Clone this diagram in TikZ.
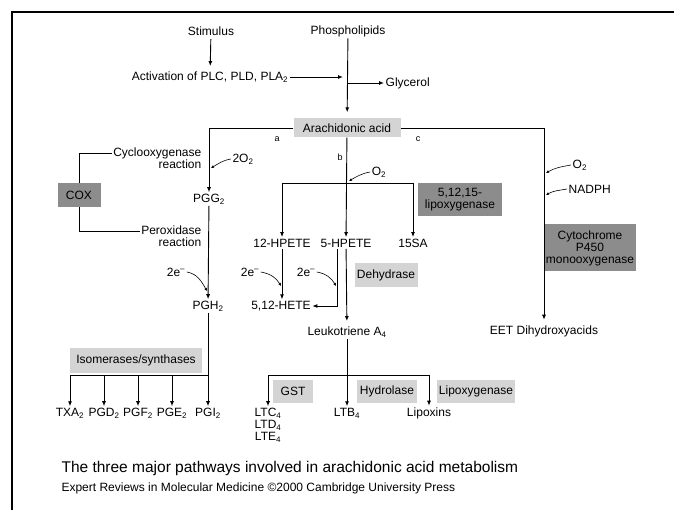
\documentclass[tikz,border=0pt]{standalone}
\usepackage{fontspec}
\setmainfont{Liberation Sans}
\usetikzlibrary{arrows.meta}
\definecolor{boxdark}{gray}{0.55}
\definecolor{boxlight}{gray}{0.83}
\tikzset{
  lbl/.style={font=\fontsize{12}{12}\selectfont, inner sep=1.5pt},
  tag/.style={font=\fontsize{9}{10}\selectfont, inner sep=1pt},
  lightbox/.style={lbl, fill=boxlight, align=center},
  darkbox/.style={lbl, fill=boxdark, align=center},
  arr/.style={-{Latex[length=5pt,width=4pt]}, line width=0.9pt},
  sarr/.style={-{Latex[length=3pt,width=3pt]}, line width=0.6pt},
  line/.style={line width=0.9pt}
}
\begin{document}
\begin{tikzpicture}[x=1pt,y=-1pt]
  \useasboundingbox (0,0) rectangle (674,510);
  \draw[line width=2.5pt] (12,510) -- (12,12) -- (674,12);

  \node[lbl] (stim) at (211,31) {Stimulus};
  \node[lbl] (phos) at (348,31) {Phospholipids};
  \node[lbl] (act) at (210,77) {Activation of PLC, PLD, PLA\textsubscript{2}};
  \node[lbl,anchor=west] (glyc) at (384,83) {Glycerol};
  \node[lightbox,minimum width=107pt,minimum height=19pt] (aa) at (347,128) {Arachidonic acid};

  \coordinate (pj1) at (346,77);
  \coordinate (pj2) at (347,83);
  \draw[arr,shorten <=2pt,shorten >=4pt] (stim) -- (act);
  \draw[arr,shorten >=6pt] (phos) -- (aa);
  \draw[arr,shorten >=3pt] (act) -- (pj1);
  \draw[arr] (pj2) -- (glyc);

  \node[tag] (pa) at (277,139) {a};
  \node[tag] (pb) at (340,157) {b};
  \node[tag] (pc) at (418,139) {c};

  \node[lbl,align=right,anchor=east] (cyclo) at (203,158) {Cyclooxygenase\\reaction};
  \node[lbl,align=right,anchor=east] (perox) at (203,236) {Peroxidase\\reaction};
  \node[darkbox,minimum width=43pt,minimum height=24pt] (cox) at (79,195) {COX};
  \node[lbl] (twoo) at (243,159) {2O\textsubscript{2}};
  \node[lbl] (pgg) at (209,199) {PGG\textsubscript{2}};
  \node[lbl] (eone) at (176,272) {2e\textsuperscript{--}};
  \node[lbl] (pgh) at (208,306) {PGH\textsubscript{2}};
  \node[lightbox,minimum width=132pt,minimum height=25pt] (iso) at (136,360) {Isomerases/synthases};

  \draw[line] ([yshift=5pt]cyclo.west) -| (cox.north);
  \draw[line] ([yshift=5pt]perox.west) -| (cox.south);
  \draw[arr] (aa.west) -| (pgg);
  \coordinate (ptwoo) at (211,168);
  \draw[sarr] (twoo.west) to[out=190,in=30] (ptwoo);
  \draw[arr] (pgg) -- (pgh);
  \coordinate (peone) at (207,291);
  \draw[sarr] (eone.east) to[out=-10,in=120] (peone);

  \node[lbl] (txa) at (70,413) {TXA\textsubscript{2}};
  \node[lbl] (pgd) at (104,413) {PGD\textsubscript{2}};
  \node[lbl] (pgf) at (138,413) {PGF\textsubscript{2}};
  \node[lbl] (pge) at (172,413) {PGE\textsubscript{2}};
  \node[lbl] (pgi) at (208,413) {PGI\textsubscript{2}};
  \coordinate (pbar) at (208,375);
  \draw[line] (pgh) -- (pbar);
  \foreach \n in {txa,pgd,pgf,pge,pgi}
    \draw[arr] (pbar) -| (\n);

  \node[lbl] (obox) at (379,172) {O\textsubscript{2}};
  \node[darkbox,minimum width=84pt,minimum height=33pt] (lox) at (460,200) {5,12,15-\\lipoxygenase};
  \node[lbl] (hp12) at (282,243) {12-HPETE};
  \node[lbl] (hp5) at (346,243) {5-HPETE};
  \node[lbl] (sa15) at (413,243) {15SA};
  \node[lbl] (etwo) at (250,272) {2e\textsuperscript{--}};
  \node[lbl] (ethree) at (306,272) {2e\textsuperscript{--}};
  \node[lightbox,minimum width=63pt,minimum height=24pt] (dehyd) at (386,275) {Dehydrase};
  \node[lbl] (hete) at (281,306) {5,12-HETE};
  \node[lbl] (lta) at (347,332) {Leukotriene A\textsubscript{4}};

  \draw[arr] (aa) -- (hp5);
  \coordinate (pobox) at (349,181);
  \draw[sarr] (obox.west) to[out=190,in=30] (pobox);
  \coordinate (lbar) at (347,183);
  \draw[arr] (lbar) -| (hp12);
  \draw[arr] (lbar) -| (sa15);
  \draw[arr] (hp12) -- (hp12 |- hete.north);
  \draw[arr] ([xshift=-9pt]hp5.south) |- (hete);
  \coordinate (petwo) at (281,286);
  \coordinate (pethree) at (336,286);
  \draw[sarr] (etwo.east) to[out=-10,in=120] (petwo);
  \draw[sarr] (ethree.east) to[out=-10,in=120] (pethree);
  \draw[arr,shorten >=4pt] (hp5) -- (lta);

  \node[lightbox,minimum width=40pt,minimum height=23pt] (gst) at (293,391) {GST};
  \node[lightbox,minimum width=60pt,minimum height=23pt] (hydro) at (387,391) {Hydrolase};
  \node[lightbox,minimum width=74pt,minimum height=23pt] (lipo) at (476,391) {Lipoxygenase};
  \node[lbl,align=center,font=\fontsize{12}{12}\selectfont] (ltc) at (268,425) {LTC\textsubscript{4}\\LTD\textsubscript{4}\\LTE\textsubscript{4}};
  \node[lbl] (ltb) at (347,413) {LTB\textsubscript{4}};
  \node[lbl] (lipx) at (429,413) {Lipoxins};
  \coordinate (ltbar) at (347,375);
  \draw[line] (lta) -- (ltbar);
  \foreach \n in {ltc,ltb,lipx}
    \draw[arr] (ltbar) -| (\n);

  \node[lbl,anchor=west] (oc) at (571,165) {O\textsubscript{2}};
  \node[lbl,anchor=west] (nadph) at (567,189) {NADPH};
  \node[darkbox,minimum width=85pt,minimum height=47pt] (cyp) at (590,248) {Cytochrome\\P450\\monooxygenase};
  \node[lbl] (eet) at (544,331) {EET Dihydroxyacids};
  \draw[arr,shorten >=4pt] (aa.east) -| (eet);
  \coordinate (poc) at (546,173);
  \coordinate (pnadph) at (546,195);
  \draw[sarr] (oc.west) to[out=190,in=30] (poc);
  \draw[sarr] (nadph.west) to[out=190,in=30] (pnadph);

  \node[anchor=west,font=\fontsize{15.5}{16}\selectfont] (capt) at (58,468) {The three major pathways involved in arachidonic acid metabolism};
  \node[anchor=west,font=\fontsize{12}{12}\selectfont] (cred) at (58,488) {Expert Reviews in Molecular Medicine \textcopyright 2000 Cambridge University Press};
\end{tikzpicture}
\end{document}
